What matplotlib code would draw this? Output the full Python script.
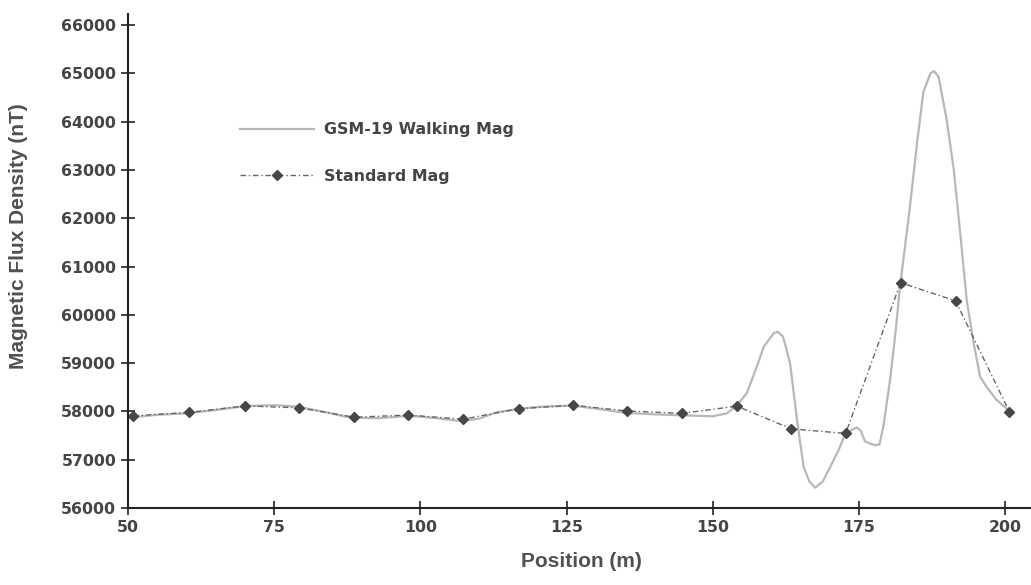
import matplotlib
matplotlib.use('Agg')
import matplotlib.pyplot as plt

# GSM-19 walking magnetometer trace (position m, field nT)
walk_x = [50, 55, 60, 65, 70, 75, 79, 84, 88, 93, 98, 102, 107, 110, 113, 117, 121, 126,
          130, 135, 140, 145, 150, 152.4, 154.1, 155.8, 157.5, 158.7, 160.4, 161.1, 162.0,
          163.2, 164.4, 165.5, 166.5, 167.5, 168.8, 170.1, 171.5, 172.7, 173.8, 174.6,
          175.3, 176.0, 177.0, 177.8, 178.5, 179.2, 180.3, 181.2, 182.0, 183.7, 184.9,
          186.0, 187.2, 187.8, 188.6, 190.0, 191.2, 192.3, 193.4, 194.6, 195.7, 196.8,
          198.5, 200.5]
walk_y = [57870, 57930, 57960, 58030, 58110, 58130, 58100, 57980, 57870, 57860, 57910,
          57870, 57800, 57850, 57980, 58060, 58100, 58120, 58060, 57970, 57940, 57920,
          57900, 57960, 58130, 58375, 58925, 59340, 59620, 59650, 59550, 59000, 57820,
          56860, 56550, 56420, 56550, 56860, 57200, 57550, 57620, 57670, 57600, 57380,
          57330, 57300, 57320, 57720, 58650, 59600, 60580, 62240, 63550, 64620, 65000,
          65050, 64930, 64030, 63000, 61690, 60310, 59410, 58720, 58510, 58240, 58030]

# standard magnetometer stations
std_x = [50.9, 60.5, 70.0, 79.2, 88.7, 97.9, 107.3, 116.8, 126.0, 135.3, 144.7, 154.1,
         163.4, 172.7, 182.1, 191.5, 200.7]
std_y = [57910, 57980, 58115, 58075, 57880, 57925, 57840, 58055, 58130, 58010, 57960,
         58110, 57640, 57545, 60665, 60290, 57995]

x_ticks = [50, 75, 100, 125, 150, 175, 200]
y_ticks = list(range(56000, 66001, 1000))

fig = plt.figure(figsize=(10.31, 5.85), dpi=100)
ax = fig.add_axes([0.1242, 0.1316, 0.8758, 0.8444])

ax.plot(walk_x, walk_y, color='#b8b8b8', linewidth=1.6, label='GSM-19 Walking Mag')
ax.plot(std_x, std_y, color='#666666', linewidth=1.0, linestyle=(0, (4, 2, 1, 2)),
        marker='D', markersize=5.5, markerfacecolor='#474747', markeredgecolor='#474747',
        label='Standard Mag')

ax.set_xlim(50, 204.4)
ax.set_ylim(56000, 66230)
ax.set_xticks(x_ticks)
ax.set_yticks(y_ticks)

for side in ['top', 'right']:
    ax.spines[side].set_visible(False)
for side in ['left', 'bottom']:
    ax.spines[side].set_linewidth(1.5)
    ax.spines[side].set_color('#222222')

ax.tick_params(axis='both', direction='inout', length=10, width=1.2, color='#222222',
               labelsize=11.3, labelcolor='#454545')
for lbl in ax.get_xticklabels() + ax.get_yticklabels():
    lbl.set_fontweight('bold')

ax.set_xlabel('Position (m)', fontsize=15, fontweight='bold', color='#505050',
              family='Liberation Sans')
ax.set_ylabel('Magnetic Flux Density (nT)', fontsize=15, fontweight='bold',
              color='#505050', family='Liberation Sans')
ax.xaxis.set_label_coords(0.5017, -0.089)
ax.yaxis.set_label_coords(-0.111, 0.55)

leg = ax.legend(loc='center left', bbox_to_anchor=(0.124, 0.7186), frameon=False,
                borderpad=0, borderaxespad=0, handlelength=4.7, handletextpad=0.6,
                labelspacing=2.0, prop={'size': 11.4, 'weight': 'bold'})
for t in leg.get_texts():
    t.set_color('#454545')

plt.savefig('out.png', dpi=100)
plt.close()
